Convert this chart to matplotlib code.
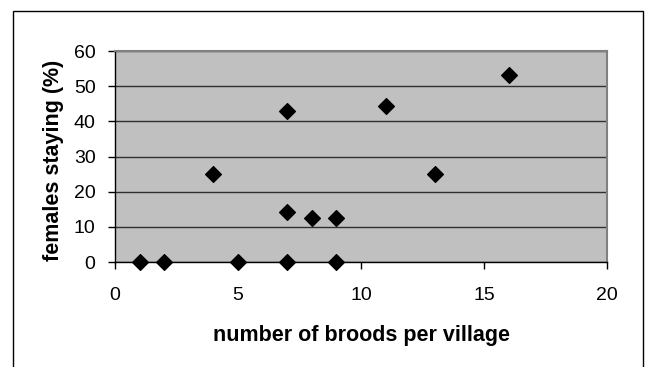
import matplotlib.pyplot as plt
from matplotlib.patches import Rectangle

plt.rcParams['font.family'] = ['Liberation Sans', 'DejaVu Sans']

# broods per village vs. share of females that stayed
broods = [1, 2, 4, 5, 7, 7, 7, 8, 9, 9, 11, 13, 16]
staying = [0, 0, 25, 0, 0, 14.3, 42.9, 12.5, 12.5, 0, 44.4, 25, 53.3]

x_ticks = [0, 5, 10, 15, 20]
y_ticks = [0, 10, 20, 30, 40, 50, 60]

fig = plt.figure(figsize=(6.48, 3.67), dpi=100)
ax = fig.add_axes([0.1775, 0.2861, 0.7592, 0.5749])

ax.set_facecolor('#c0c0c0')
ax.scatter(broods, staying, marker='D', s=64, color='black', zorder=3, clip_on=False)

ax.set_xlim(0, 20)
ax.set_ylim(0, 60)
ax.set_xticks(x_ticks)
ax.set_yticks(y_ticks)
ax.yaxis.grid(True, color='#303030', linewidth=1)
ax.set_axisbelow(True)

for side in ['top', 'right']:
    ax.spines[side].set_color('#808080')
    ax.spines[side].set_linewidth(1.5)
for side in ['left', 'bottom']:
    ax.spines[side].set_color('black')
    ax.spines[side].set_linewidth(1)

ax.tick_params(axis='x', direction='out', length=5, width=1, pad=13, labelsize=14)
ax.tick_params(axis='y', direction='out', length=5, width=1, pad=9, labelsize=14)

ax.set_xlabel('number of broods per village', fontsize=15.5, fontweight='bold', labelpad=15)
ax.set_ylabel('females staying (%)', fontsize=15.5, fontweight='bold')
ax.yaxis.set_label_coords(-0.104, 0.48)

# chart border
fig.patches.append(Rectangle((0.0196, -0.05), 0.9727, 1.019, transform=fig.transFigure,
                             fill=False, edgecolor='black', linewidth=1))

fig.savefig('out.png', dpi=100)
